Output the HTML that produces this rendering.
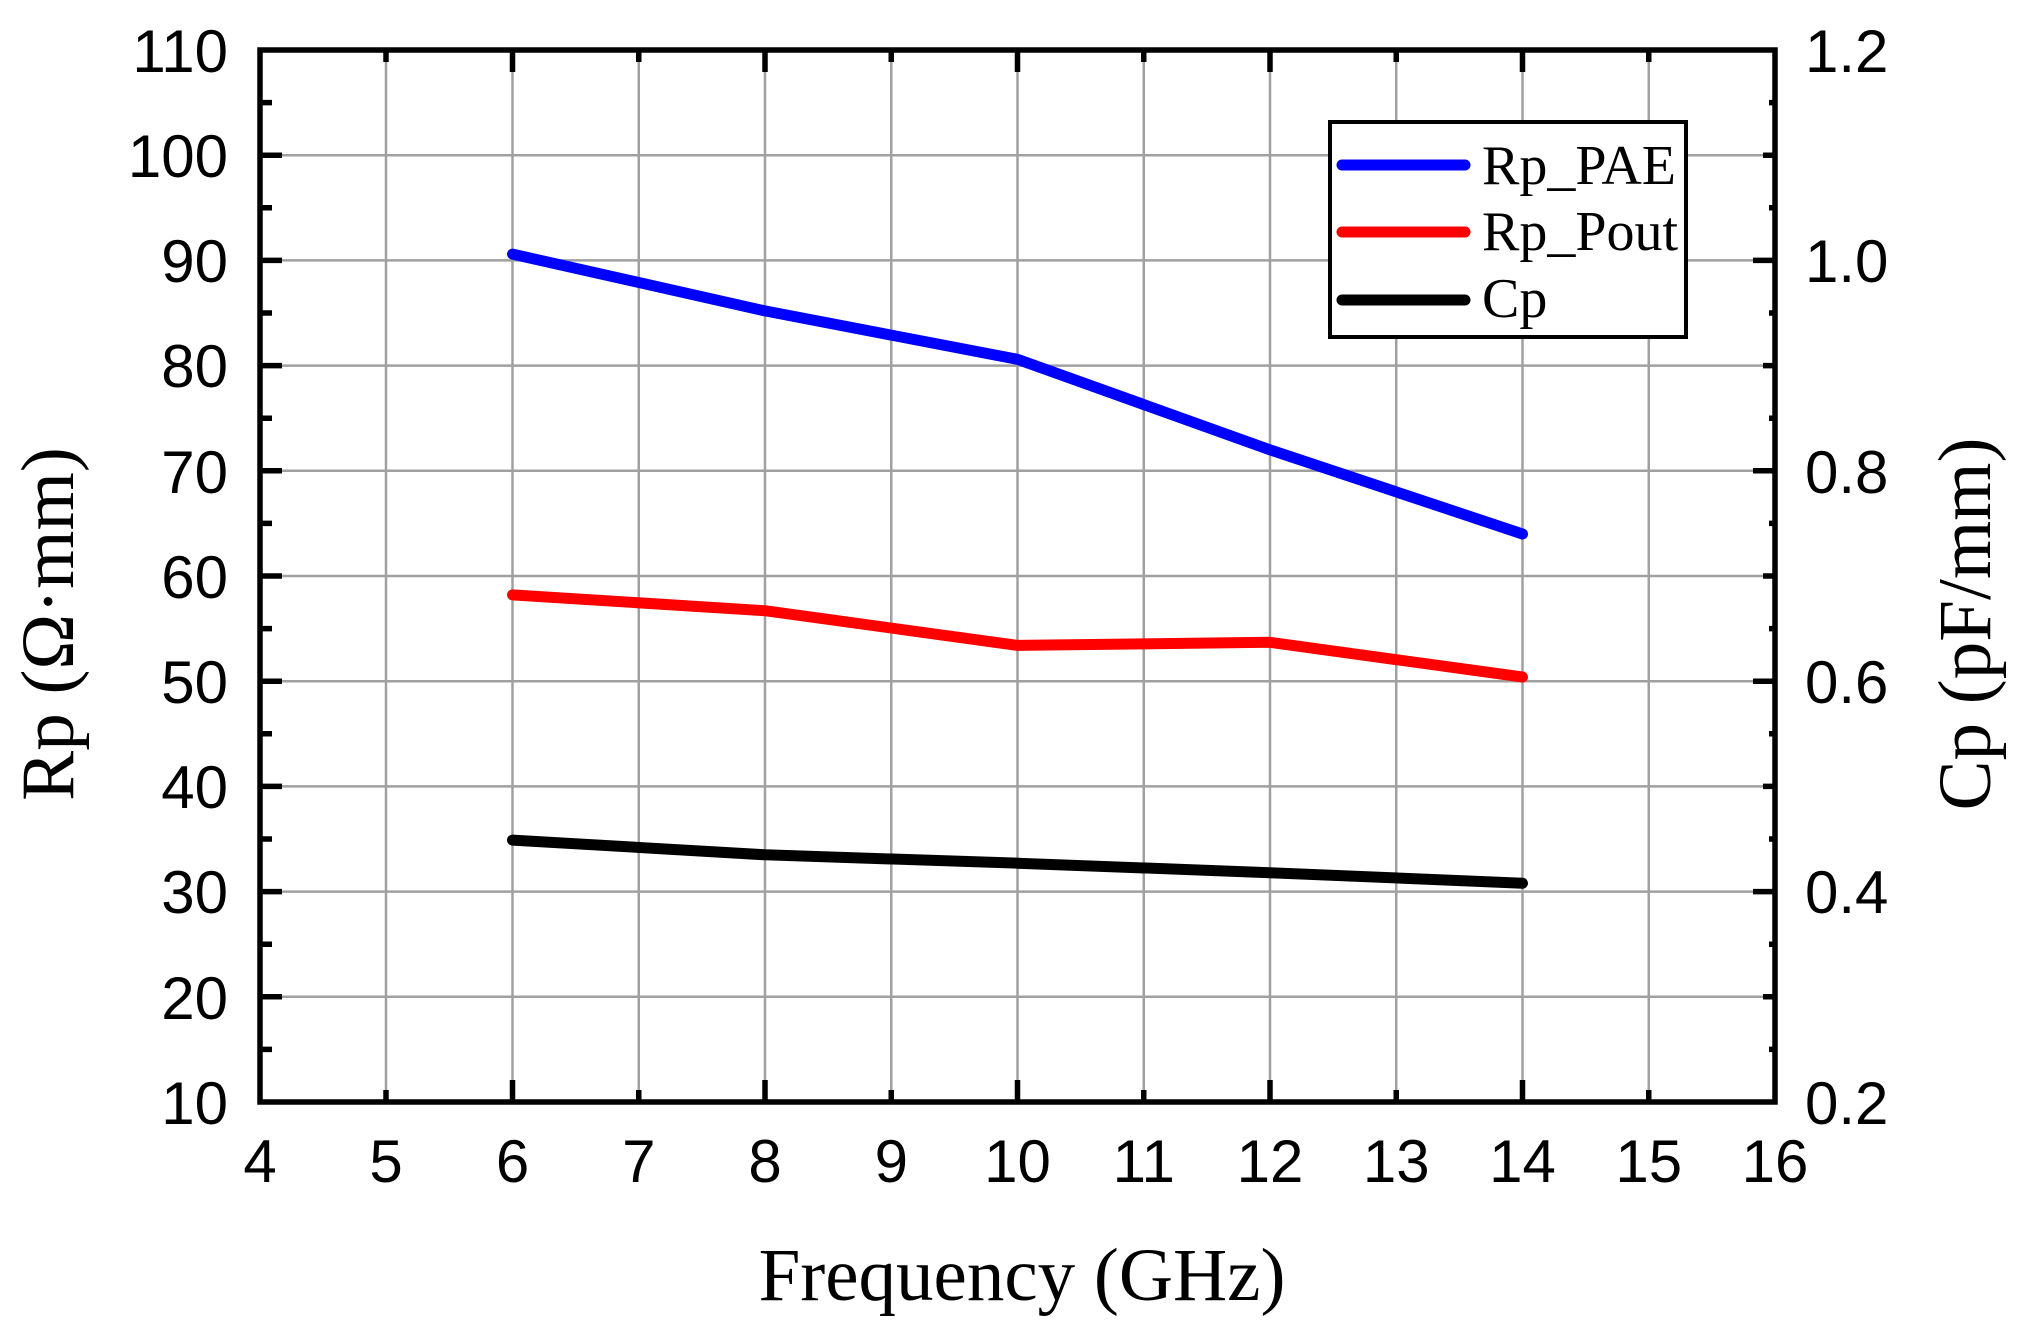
<!DOCTYPE html>
<html><head><meta charset="utf-8"><style>html,body{margin:0;padding:0;background:#fff}svg{display:block}</style></head>
<body>
<svg width="2017" height="1333" viewBox="0 0 2017 1333" xmlns="http://www.w3.org/2000/svg">
<g stroke="#a0a0a0" stroke-width="2.5">
<line x1="386" y1="50" x2="386" y2="1102"/><line x1="512.5" y1="50" x2="512.5" y2="1102"/><line x1="638.75" y1="50" x2="638.75" y2="1102"/><line x1="765" y1="50" x2="765" y2="1102"/><line x1="891.25" y1="50" x2="891.25" y2="1102"/><line x1="1017.5" y1="50" x2="1017.5" y2="1102"/><line x1="1143.75" y1="50" x2="1143.75" y2="1102"/><line x1="1270" y1="50" x2="1270" y2="1102"/><line x1="1396.25" y1="50" x2="1396.25" y2="1102"/><line x1="1522.5" y1="50" x2="1522.5" y2="1102"/><line x1="1648.75" y1="50" x2="1648.75" y2="1102"/>
<line x1="260" y1="155.2" x2="1775" y2="155.2"/><line x1="260" y1="260.4" x2="1775" y2="260.4"/><line x1="260" y1="365.6" x2="1775" y2="365.6"/><line x1="260" y1="470.8" x2="1775" y2="470.8"/><line x1="260" y1="576" x2="1775" y2="576"/><line x1="260" y1="681.2" x2="1775" y2="681.2"/><line x1="260" y1="786.4" x2="1775" y2="786.4"/><line x1="260" y1="891.6" x2="1775" y2="891.6"/><line x1="260" y1="996.8" x2="1775" y2="996.8"/>
</g>
<g fill="none" stroke-width="11" stroke-linejoin="round" stroke-linecap="round">
<polyline stroke="#0000ff" points="512.5,254.1 765,310.9 1017.5,359.3 1270,449.8 1522.5,534"/>
<polyline stroke="#ff0000" points="512.5,594.9 765,610.7 1017.5,645.4 1270,642.3 1522.5,677"/>
<polyline stroke="#000" points="512.5,840.1 765,854.8 1017.5,863.2 1270,872.7 1522.5,883.2"/>
</g>
<g stroke="#000" stroke-width="5.5">
<path d="M260,50 V1102 H1775 V50 Z" fill="none"/>
<path d="M386,1102v-12M638.75,1102v-12M891.25,1102v-12M1143.75,1102v-12M1396.25,1102v-12M1648.75,1102v-12M386,50v12M638.75,50v12M891.25,50v12M1143.75,50v12M1396.25,50v12M1648.75,50v12"/>
<path d="M512.5,1102v-22M765,1102v-22M1017.5,1102v-22M1270,1102v-22M1522.5,1102v-22M512.5,50v22M765,50v22M1017.5,50v22M1270,50v22M1522.5,50v22"/>
<path d="M260,155.2h22M260,260.4h22M260,365.6h22M260,470.8h22M260,576h22M260,681.2h22M260,786.4h22M260,891.6h22M260,996.8h22M260,102.6h12M260,207.8h12M260,313h12M260,418.2h12M260,523.4h12M260,628.6h12M260,733.8h12M260,839h12M260,944.2h12M260,1049.4h12"/>
<path d="M1775,155.2h-12M1775,260.4h-22M1775,365.6h-12M1775,470.8h-22M1775,576h-12M1775,681.2h-22M1775,786.4h-12M1775,891.6h-22M1775,996.8h-12M1775,102.6h-6M1775,207.8h-6M1775,313h-6M1775,418.2h-6M1775,523.4h-6M1775,628.6h-6M1775,733.8h-6M1775,839h-6M1775,944.2h-6M1775,1049.4h-6"/>
</g>
<g font-family="Liberation Sans, sans-serif" font-size="60" fill="#000">
<g text-anchor="end">
<text x="228" y="72">110</text><text x="228" y="177">100</text><text x="228" y="282">90</text><text x="228" y="387">80</text><text x="228" y="493">70</text><text x="228" y="598">60</text><text x="228" y="703">50</text><text x="228" y="808">40</text><text x="228" y="913">30</text><text x="228" y="1019">20</text><text x="228" y="1124">10</text>
</g>
<g>
<text x="1805" y="72">1.2</text><text x="1805" y="282">1.0</text><text x="1805" y="493">0.8</text><text x="1805" y="703">0.6</text><text x="1805" y="913">0.4</text><text x="1805" y="1124">0.2</text>
</g>
<g text-anchor="middle">
<text x="260" y="1182">4</text><text x="386" y="1182">5</text><text x="512.5" y="1182">6</text><text x="638.75" y="1182">7</text><text x="765" y="1182">8</text><text x="891.25" y="1182">9</text><text x="1017.5" y="1182">10</text><text x="1143.75" y="1182">11</text><text x="1270" y="1182">12</text><text x="1396.25" y="1182">13</text><text x="1522.5" y="1182">14</text><text x="1648.75" y="1182">15</text><text x="1775" y="1182">16</text>
</g>
</g>
<g font-family="Liberation Serif, serif" font-size="75" fill="#000" text-anchor="middle">
<text x="1022" y="1300">Frequency (GHz)</text>
<text transform="translate(73,624) rotate(-90)">Rp (Ω·mm)</text>
<text transform="translate(1990,624) rotate(-90)">Cp (pF/mm)</text>
</g>
<rect x="1330" y="122" width="356" height="215" fill="#fff" stroke="#000" stroke-width="4"/>
<g stroke-width="11" stroke-linecap="round">
<line x1="1342" y1="165" x2="1465" y2="165" stroke="#0000ff"/>
<line x1="1342" y1="232" x2="1465" y2="232" stroke="#ff0000"/>
<line x1="1342" y1="300" x2="1465" y2="300" stroke="#000"/>
</g>
<g font-family="Liberation Serif, serif" font-size="56" fill="#000">
<text x="1482" y="184">Rp_PAE</text><text x="1482" y="250">Rp_Pout</text><text x="1482" y="317">Cp</text>
</g>
</svg>
</body></html>
